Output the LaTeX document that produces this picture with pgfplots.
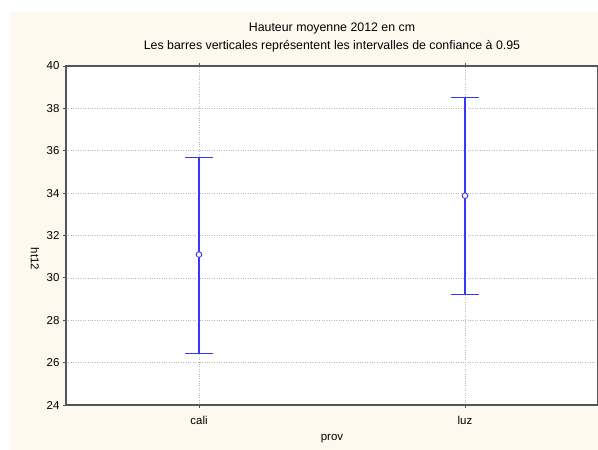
\documentclass[border=0pt]{standalone}
\usepackage{pgfplots}
\pgfplotsset{compat=1.18}
\usepackage{fontspec}
\setmainfont{Liberation Sans}
\definecolor{cream}{RGB}{253,249,238}
\definecolor{axgray}{RGB}{85,85,85}
\definecolor{ebblue}{RGB}{55,55,252}
\begin{document}
\begin{tikzpicture}
\path[use as bounding box] (-66bp,-45bp) rectangle (532bp,405bp);
\fill[white] (-66bp,-45bp) rectangle (532bp,405bp);
\fill[cream] (-56bp,-45bp) rectangle (532bp,393bp);
\begin{axis}[
  at={(0,0)}, anchor=south west,
  scale only axis, width=532bp, height=339bp,
  xmin=-0.5, xmax=1.5, ymin=24, ymax=40,
  xtick={0,1}, xticklabels={cali,luz},
  ytick={24,26,...,40},
  axis background/.style={fill=white},
  axis line style={axgray, line width=1.1pt},
  grid=major,
  major grid style={gray!55, dotted, line width=0.5pt},
  tick style={axgray, line width=0.8pt},
  tick align=outside, major tick length=3bp,
  font=\fontsize{11.5}{13}\selectfont,
  ticklabel style={font=\fontsize{11.5}{13}\selectfont},
  /pgf/number format/assume math mode=true,
  xlabel={prov},
  xlabel style={at={(0.5,0)}, anchor=center, yshift=-34bp},
  xticklabel style={anchor=center, yshift=-12bp},
  title={Hauteur moyenne 2012 en cm\\[4bp]Les barres verticales représentent les intervalles de confiance à 0.95},
  title style={align=center, font=\fontsize{12.4}{14}\selectfont, at={(0.5,1)}, anchor=south, yshift=4bp},
]
% vertical bars (95% CI)
\addplot[color=ebblue, no marks, line width=1.15bp] coordinates {(0,26.45) (0,35.68)};
\addplot[color=ebblue, no marks, line width=1.15bp] coordinates {(1,29.23) (1,38.52)};
% caps
\addplot[color=ebblue, no marks, line width=1.15bp] coordinates {(-0.051,35.68) (0.051,35.68)};
\addplot[color=ebblue, no marks, line width=1.15bp] coordinates {(-0.051,26.45) (0.051,26.45)};
\addplot[color=ebblue, no marks, line width=1.15bp] coordinates {(0.949,38.52) (1.051,38.52)};
\addplot[color=ebblue, no marks, line width=1.15bp] coordinates {(0.949,29.23) (1.051,29.23)};
% means
\addplot[only marks, mark=*, mark size=2.8bp,
  mark options={fill=white, draw=ebblue, line width=0.9pt}]
coordinates {(0,31.1) (1,33.88)};
\end{axis}
\node[rotate=-90, font=\fontsize{11.5}{13}\selectfont] at (-31bp,146bp) {ht12};
\end{tikzpicture}
\end{document}
